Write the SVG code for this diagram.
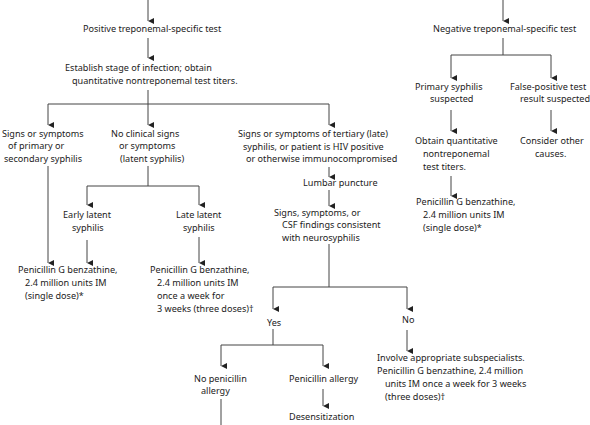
<svg xmlns="http://www.w3.org/2000/svg" width="590" height="425" viewBox="0 0 590 425">
<defs>
<marker id="ah" markerUnits="userSpaceOnUse" markerWidth="6" markerHeight="6" refX="2.5" refY="5" orient="auto-start-reverse" viewBox="0 0 5 5">
<path d="M0,0 L5,0 L2.5,5 Z" fill="#222"/>
</marker>
<style>
text{font-family:"Noto Sans","Open Sans",sans-serif;font-size:9.1px;fill:#222}
.c line,.c path{stroke:#444;stroke-width:1;fill:none}
.a{marker-end:url(#ah)}
</style>
</defs>
<rect width="590" height="425" fill="#fff"/>
<g class="c" id="connectors">
<line class="a" x1="148" y1="0" x2="148" y2="21"/>
<line class="a" x1="148" y1="38" x2="148" y2="58"/>
<path d="M148,90 V104 M48,104 H329"/>
<line class="a" x1="48" y1="104" x2="48" y2="125"/>
<line class="a" x1="148" y1="104" x2="148" y2="125"/>
<line class="a" x1="329" y1="104" x2="329" y2="125"/>
<line class="a" x1="48" y1="166" x2="48" y2="263"/>
<path d="M148,166 V186 M87,186 H199"/>
<line class="a" x1="87" y1="186" x2="87" y2="205"/>
<line class="a" x1="199" y1="186" x2="199" y2="205"/>
<line class="a" x1="87" y1="240" x2="87" y2="263"/>
<line class="a" x1="199" y1="237" x2="199" y2="263"/>
<line class="a" x1="329" y1="167" x2="329" y2="177"/>
<line class="a" x1="329" y1="190" x2="329" y2="206"/>
<path d="M329,244 V287 M273,287 H407"/>
<line class="a" x1="273" y1="287" x2="273" y2="309"/>
<line class="a" x1="407" y1="287" x2="407" y2="309"/>
<path d="M273,329 V345 M221,345 H323"/>
<line class="a" x1="221" y1="345" x2="221" y2="366"/>
<line class="a" x1="323" y1="345" x2="323" y2="366"/>
<line x1="221" y1="399" x2="221" y2="425"/>
<line class="a" x1="323" y1="389" x2="323" y2="406"/>
<line class="a" x1="407" y1="330" x2="407" y2="351"/>
<line class="a" x1="503" y1="0" x2="503" y2="21"/>
<path d="M503,38 V55 M451,55 H551"/>
<line class="a" x1="451" y1="55" x2="451" y2="78"/>
<line class="a" x1="551" y1="55" x2="551" y2="78"/>
<line class="a" x1="451" y1="110" x2="451" y2="131"/>
<line class="a" x1="551" y1="110" x2="551" y2="131"/>
<line class="a" x1="451" y1="176" x2="451" y2="196"/>
</g>
<g id="positive"><text x="83" y="32">Positive treponemal-specific test</text></g>
<g id="establish"><text x="65" y="71">Establish stage of infection; obtain</text><text x="72" y="84">quantitative nontreponemal test titers.</text></g>
<g id="primary-secondary"><text x="2" y="137">Signs or symptoms</text><text x="8" y="149">of primary or</text><text x="4" y="162">secondary syphilis</text></g>
<g id="no-clinical"><text x="111" y="137">No clinical signs</text><text x="119" y="149">or symptoms</text><text x="120" y="162">(latent syphilis)</text></g>
<g id="tertiary"><text x="238" y="137">Signs or symptoms of tertiary (late)</text><text x="243" y="150">syphilis, or patient is HIV positive</text><text x="246" y="162">or otherwise immunocompromised</text></g>
<g id="early-latent"><text x="63" y="218">Early latent</text><text x="72" y="231">syphilis</text></g>
<g id="late-latent"><text x="176" y="218">Late latent</text><text x="183" y="231">syphilis</text></g>
<g id="pen-single-left"><text x="18" y="273">Penicillin G benzathine,</text><text x="25" y="286">2.4 million units IM</text><text x="25" y="299">(single dose)*</text></g>
<g id="pen-weekly-mid"><text x="150" y="273">Penicillin G benzathine,</text><text x="157" y="286">2.4 million units IM</text><text x="157" y="299">once a week for</text><text x="157" y="312">3 weeks (three doses)†</text></g>
<g id="lumbar"><text x="303" y="186">Lumbar puncture</text></g>
<g id="neuro"><text x="274" y="216">Signs, symptoms, or</text><text x="282" y="228">CSF findings consistent</text><text x="282" y="241">with neurosyphilis</text></g>
<g id="yes"><text x="267" y="326">Yes</text></g>
<g id="no"><text x="402" y="323">No</text></g>
<g id="no-allergy"><text x="194" y="382">No penicillin</text><text x="201" y="394">allergy</text></g>
<g id="allergy"><text x="289" y="382">Penicillin allergy</text></g>
<g id="desens"><text x="289" y="420">Desensitization</text></g>
<g id="involve"><text x="377" y="361">Involve appropriate subspecialists.</text><text x="377" y="374">Penicillin G benzathine, 2.4 million</text><text x="385" y="387">units IM once a week for 3 weeks</text><text x="385" y="400">(three doses)†</text></g>
<g id="negative"><text x="433" y="32">Negative treponemal-specific test</text></g>
<g id="primary-suspected"><text x="415" y="90">Primary syphilis</text><text x="430" y="102">suspected</text></g>
<g id="false-positive"><text x="510" y="90">False-positive test</text><text x="520" y="102">result suspected</text></g>
<g id="obtain"><text x="415" y="144">Obtain quantitative</text><text x="423" y="157">nontreponemal</text><text x="423" y="170">test titers.</text></g>
<g id="consider"><text x="520" y="144">Consider other</text><text x="535" y="157">causes.</text></g>
<g id="pen-single-right"><text x="416" y="205">Penicillin G benzathine,</text><text x="423" y="218">2.4 million units IM</text><text x="423" y="231">(single dose)*</text></g>
</svg>
